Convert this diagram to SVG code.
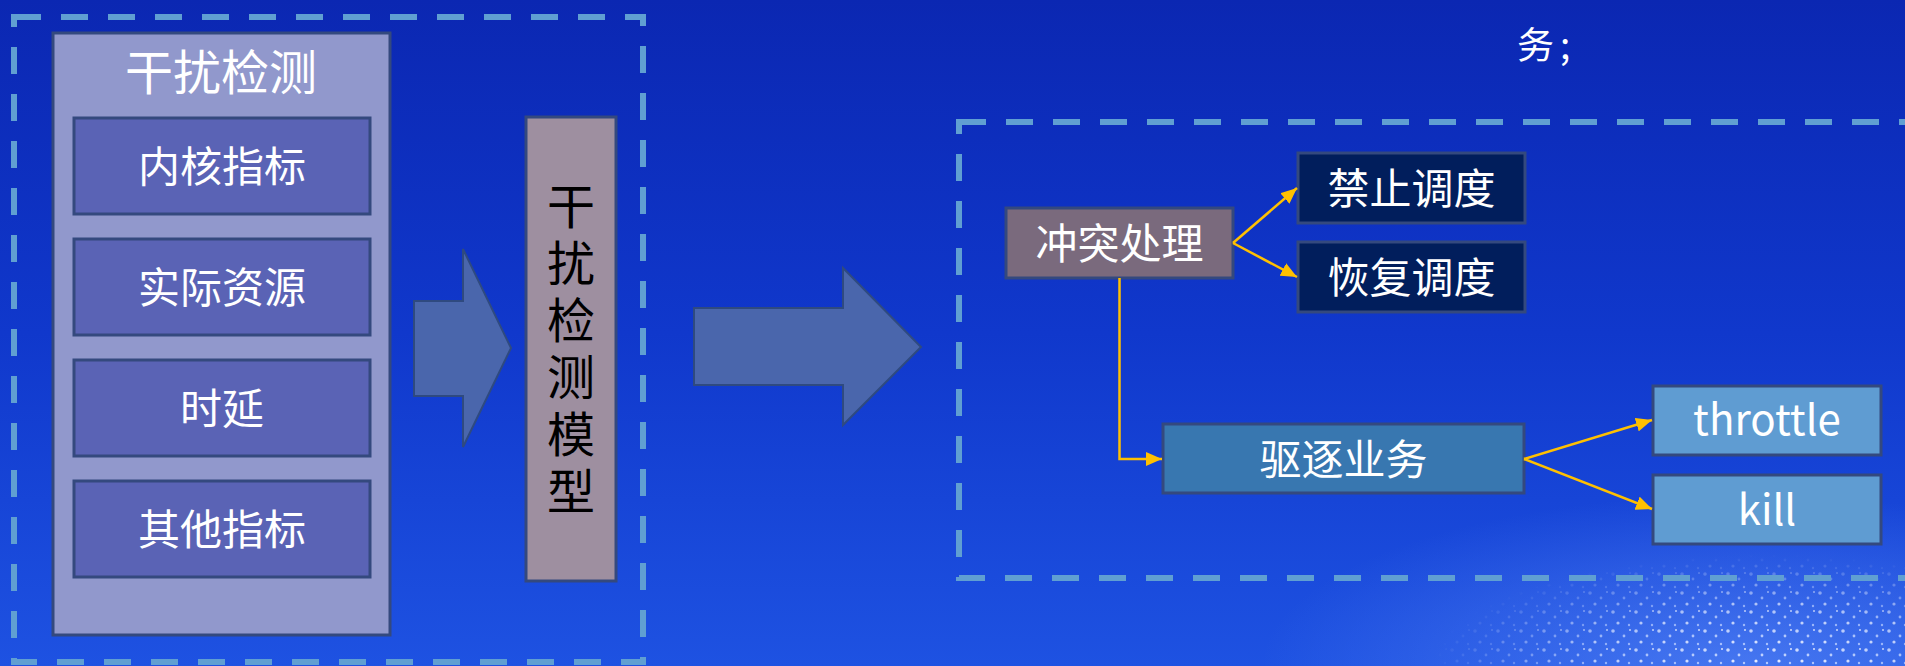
<svg xmlns="http://www.w3.org/2000/svg" width="1905" height="666" viewBox="0 0 1905 666">
<defs>
<linearGradient id="bg" x1="0" y1="0" x2="0" y2="1">
<stop offset="0" stop-color="#0B27B2"/>
<stop offset="0.5" stop-color="#1038CC"/>
<stop offset="1" stop-color="#1E52E2"/>
</linearGradient>
<radialGradient id="glow" cx="0.8" cy="1" r="0.6">
<stop offset="0" stop-color="#6E9BFF" stop-opacity="0.5"/>
<stop offset="1" stop-color="#6E9BFF" stop-opacity="0"/>
</radialGradient>
<pattern id="dots" width="23" height="19" patternUnits="userSpaceOnUse">
<circle cx="3" cy="4" r="1.8" fill="#DCE6FF"/>
<circle cx="14" cy="9" r="1.4" fill="#C8D8FF"/>
<circle cx="8" cy="15" r="1.6" fill="#E8EEFF"/>
<circle cx="19" cy="17" r="1.2" fill="#B8CCFF"/>
<circle cx="20" cy="3" r="1" fill="#F0F4FF"/>
</pattern>
<radialGradient id="sparkMask" cx="0.75" cy="1" r="0.6">
<stop offset="0" stop-color="#fff" stop-opacity="1"/>
<stop offset="0.55" stop-color="#fff" stop-opacity="0.7"/>
<stop offset="1" stop-color="#fff" stop-opacity="0"/>
</radialGradient>
<mask id="m">
<rect x="1350" y="480" width="555" height="186" fill="url(#sparkMask)"/>
</mask>
<marker id="ah" viewBox="0 0 16 14" refX="16" refY="7" markerWidth="16" markerHeight="14" markerUnits="userSpaceOnUse" orient="auto">
<path d="M0,0 L16,7 L0,14 Z" fill="#FFC000"/>
</marker>
<style>
.dash{fill:none;stroke:#609FD2;stroke-width:6;stroke-dasharray:27 20}
.box{stroke:#34497E;stroke-width:3}
.wt{fill:#FFFFFF;font-family:"Noto Sans CJK SC","Noto Sans",sans-serif;text-anchor:middle}
.conn{fill:none;stroke:#FFC000;stroke-width:2.5}
.blk{fill:#4A66AC;stroke:#2F4A80;stroke-width:2}
</style>
</defs>
<rect width="1905" height="666" fill="url(#bg)"/>
<rect x="1100" y="380" width="805" height="286" fill="url(#glow)"/>
<rect x="1350" y="480" width="555" height="186" fill="url(#dots)" mask="url(#m)"/>

<text x="1517" y="59" font-size="37" fill="#FFFFFF" letter-spacing="6" font-family="Noto Sans CJK SC, sans-serif">务;</text>

<rect class="dash" x="14" y="17" width="629" height="645"/>
<rect class="dash" x="959" y="122" width="960" height="456"/>

<g id="detect">
<rect class="box" x="53" y="33" width="337" height="602" fill="#9198CC"/>
<text class="wt" x="221" y="90" font-size="48">干扰检测</text>
</g>
<g id="kernel">
<rect class="box" x="74" y="118" width="296" height="96" fill="#5A63B5"/>
<text class="wt" x="222" y="182" font-size="42">内核指标</text>
</g>
<g id="resource">
<rect class="box" x="74" y="239" width="296" height="96" fill="#5A63B5"/>
<text class="wt" x="222" y="303" font-size="42">实际资源</text>
</g>
<g id="latency">
<rect class="box" x="74" y="360" width="296" height="96" fill="#5A63B5"/>
<text class="wt" x="222" y="424" font-size="42">时延</text>
</g>
<g id="other">
<rect class="box" x="74" y="481" width="296" height="96" fill="#5A63B5"/>
<text class="wt" x="222" y="545" font-size="42">其他指标</text>
</g>

<g id="arrow1">
<path class="blk" d="M414,301 L463,301 L463,249 L511,348 L463,447 L463,396 L414,396 Z"/>
</g>

<g id="model">
<rect class="box" x="526" y="117" width="90" height="464" fill="#9E8FA0"/>
<text x="571" y="182" font-size="48" fill="#000000" font-family="Noto Sans CJK SC, sans-serif" writing-mode="vertical-rl" letter-spacing="9">干扰检测模型</text>
</g>

<g id="arrow2">
<path class="blk" d="M694,308 L843,308 L843,268 L921,347 L843,425 L843,385 L694,385 Z"/>
</g>

<g id="conflict">
<rect class="box" x="1006" y="208" width="227" height="70" fill="#7A6A7D"/>
<text class="wt" x="1119.5" y="259" font-size="42">冲突处理</text>
</g>
<g id="forbid">
<rect class="box" x="1298" y="153" width="227" height="70" fill="#011E5C"/>
<text class="wt" x="1411.5" y="204" font-size="42">禁止调度</text>
</g>
<g id="resume">
<rect class="box" x="1298" y="242" width="227" height="70" fill="#011E5C"/>
<text class="wt" x="1411.5" y="293" font-size="42">恢复调度</text>
</g>
<g id="evict">
<rect class="box" x="1163" y="424" width="361" height="69" fill="#3877B0"/>
<text class="wt" x="1343.5" y="475" font-size="42">驱逐业务</text>
</g>
<g id="throttle">
<rect class="box" x="1653" y="386" width="228" height="69" fill="#5F9CD2"/>
<text class="wt" x="1767" y="435" font-size="42">throttle</text>
</g>
<g id="kill">
<rect class="box" x="1653" y="475" width="228" height="69" fill="#5F9CD2"/>
<text class="wt" x="1767" y="525" font-size="42">kill</text>
</g>

<g id="connectors">
<path class="conn" d="M1233,243 L1297,188" marker-end="url(#ah)"/>
<path class="conn" d="M1233,243 L1297,277" marker-end="url(#ah)"/>
<path class="conn" d="M1119.5,278 L1119.5,459 L1162,459" marker-end="url(#ah)"/>
<path class="conn" d="M1524,459 L1652,420" marker-end="url(#ah)"/>
<path class="conn" d="M1524,459 L1652,509" marker-end="url(#ah)"/>
</g>
</svg>
